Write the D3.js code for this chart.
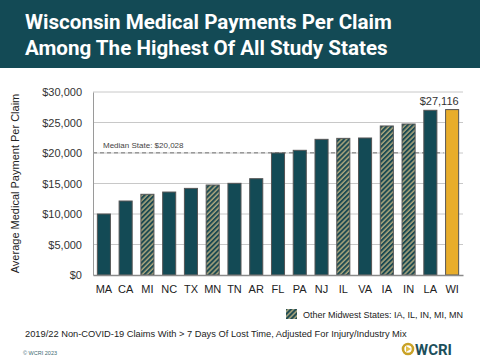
<!DOCTYPE html>
<html>
<head>
<meta charset="utf-8">
<script src="https://cdn.jsdelivr.net/npm/d3@7"></script>
<style>
  body { margin: 0; background: #fff; }
  svg { display: block; }
</style>
</head>
<body>
<svg id="chart"></svg>
<script>
// data
const states = ['MA','CA','MI','NC','TX','MN','TN','AR','FL','PA','NJ','IL','VA','IA','IN','LA','WI'];
const payments = [10000, 12130, 13230, 13600, 14200, 14750, 15030, 15790, 20000, 20440, 22240, 22400, 22460, 24430, 24750, 27000, 27116];
const midwest = ['IA','IL','IN','MI','MN'];
const yTicks = [0, 5000, 10000, 15000, 20000, 25000, 30000];
const medianValue = 20028;

const W = 480, H = 360;
const margin = {top: 92, right: 17, bottom: 85, left: 93};
const innerW = W - margin.left - margin.right;
const innerH = H - margin.top - margin.bottom;

const teal = '#134a55';
const gold = '#e8ad2b';

const svg = d3.select('#chart').attr('width', W).attr('height', H);

// hatch pattern for the other midwest states
const defs = svg.append('defs');
const pat = defs.append('pattern')
    .attr('id', 'hatch')
    .attr('patternUnits', 'userSpaceOnUse')
    .attr('width', 3.5).attr('height', 3.5)
    .attr('patternTransform', 'rotate(45)');
pat.append('rect').attr('width', 3.5).attr('height', 3.5).attr('fill', '#aaa67e');
pat.append('rect').attr('width', 2).attr('height', 3.5).attr('fill', '#1d4a52');

// header
svg.append('rect').attr('x', 0).attr('y', 0).attr('width', W).attr('height', 68).attr('fill', teal);
const title = svg.append('text')
    .attr('fill', '#fff')
    .style('font-family', 'Roboto, "Liberation Sans", sans-serif')
    .style('font-weight', 'bold')
    .style('font-size', '20.6px');
title.append('tspan').attr('x', 25).attr('y', 29).text('Wisconsin Medical Payments Per Claim');
title.append('tspan').attr('x', 25).attr('y', 55).text('Among The Highest Of All Study States');

const chart = svg.append('g')
    .attr('transform', `translate(${margin.left}, ${margin.top})`);

const xscale = d3.scaleBand()
    .domain(states)
    .range([0, innerW])
    .paddingInner(0.4)
    .paddingOuter(0.2);

const yscale = d3.scaleLinear()
    .domain([0, 30000])
    .range([innerH, 0]);

// grid lines
chart.append('g')
    .selectAll('line')
    .data(yTicks.filter(d => d > 0))
    .enter().append('line')
    .attr('x1', 0).attr('x2', innerW)
    .attr('y1', d => yscale(d)).attr('y2', d => yscale(d))
    .attr('stroke', '#c8c8c8').attr('stroke-width', 1);

// y axis
const yaxis = d3.axisLeft(yscale)
    .tickValues(yTicks)
    .tickSize(0)
    .tickPadding(11)
    .tickFormat(d => '$' + d3.format(',')(d));
const yaxis_group = chart.append('g').call(yaxis);
yaxis_group.select('.domain').attr('stroke', '#9a9a9a');
yaxis_group.selectAll('text')
    .style('font-family', '"Liberation Sans", Arial, sans-serif')
    .style('font-size', '11px')
    .attr('fill', '#333');

// median line
chart.append('line')
    .attr('x1', 0).attr('x2', xscale('WI') - 2)
    .attr('y1', yscale(medianValue)).attr('y2', yscale(medianValue))
    .attr('stroke', '#9a9a9a').attr('stroke-width', 1.5)
    .attr('stroke-dasharray', '4,3');
chart.append('text')
    .attr('x', 10).attr('y', yscale(medianValue) - 5)
    .style('font-family', '"Liberation Sans", Arial, sans-serif')
    .style('font-size', '8px')
    .attr('fill', '#444')
    .text('Median State: $' + d3.format(',')(medianValue));

// bars
chart.selectAll('rect.bar')
    .data(states)
    .enter().append('rect')
    .attr('class', 'bar')
    .attr('x', d => xscale(d))
    .attr('y', (d, i) => yscale(payments[i]))
    .attr('width', xscale.bandwidth())
    .attr('height', (d, i) => innerH - yscale(payments[i]))
    .attr('fill', d => d === 'WI' ? gold : (midwest.includes(d) ? 'url(#hatch)' : teal))
    .attr('stroke', '#555')
    .attr('stroke-width', 1);

// value label on WI
const wi = states.indexOf('WI');
chart.append('text')
    .attr('x', xscale('WI') + xscale.bandwidth())
    .attr('y', yscale(payments[wi]) - 5)
    .attr('text-anchor', 'end')
    .style('font-family', '"Liberation Sans", Arial, sans-serif')
    .style('font-size', '11px')
    .attr('fill', '#333')
    .text('$' + d3.format(',')(payments[wi]));

// x axis
const xaxis = d3.axisBottom(xscale).tickSize(0).tickPadding(10);
const xaxis_group = chart.append('g')
    .attr('transform', `translate(0, ${innerH})`)
    .call(xaxis);
xaxis_group.select('.domain').attr('stroke', '#8a8a8a').attr('stroke-width', 1.5);
xaxis_group.selectAll('text')
    .style('font-family', '"Liberation Sans", Arial, sans-serif')
    .style('font-size', '11px')
    .attr('fill', '#222');

// y label
svg.append('text')
    .attr('transform', `translate(19, ${margin.top + innerH / 2}) rotate(-90)`)
    .attr('text-anchor', 'middle')
    .style('font-family', '"Liberation Sans", Arial, sans-serif')
    .style('font-size', '11px')
    .attr('fill', '#222')
    .text('Average Medical Payment Per Claim');

// legend
svg.append('rect')
    .attr('x', 286).attr('y', 309).attr('width', 11).attr('height', 10)
    .attr('fill', 'url(#hatch)');
svg.append('text')
    .attr('x', 303).attr('y', 317.5)
    .style('font-family', '"Liberation Sans", Arial, sans-serif')
    .style('font-size', '9px')
    .attr('fill', '#222')
    .text('Other Midwest States: IA, IL, IN, MI, MN');

// footnote
svg.append('text')
    .attr('x', 25).attr('y', 337)
    .style('font-family', '"Liberation Sans", Arial, sans-serif')
    .style('font-size', '9.3px')
    .attr('fill', '#222')
    .text('2019/22 Non-COVID-19 Claims With > 7 Days Of Lost Time, Adjusted For Injury/Industry Mix');

svg.append('text')
    .attr('x', 23).attr('y', 355)
    .style('font-family', '"Liberation Sans", Arial, sans-serif')
    .style('font-size', '5.5px')
    .attr('fill', '#3d6a72')
    .text('© WCRI 2023');

// logo
svg.append('circle')
    .attr('cx', 408).attr('cy', 349).attr('r', 5)
    .attr('fill', 'none').attr('stroke', '#c9a227').attr('stroke-width', 2.6);
svg.append('path')
    .attr('d', 'M406,346 L411,349 L406,352 Z')
    .attr('fill', '#e4c04a');
svg.append('text')
    .attr('x', 415).attr('y', 355)
    .style('font-family', 'Roboto, "Liberation Sans", sans-serif')
    .style('font-weight', 'bold')
    .style('font-size', '15px')
    .attr('fill', '#1c4f5b')
    .text('WCRI');
</script>
</body>
</html>
